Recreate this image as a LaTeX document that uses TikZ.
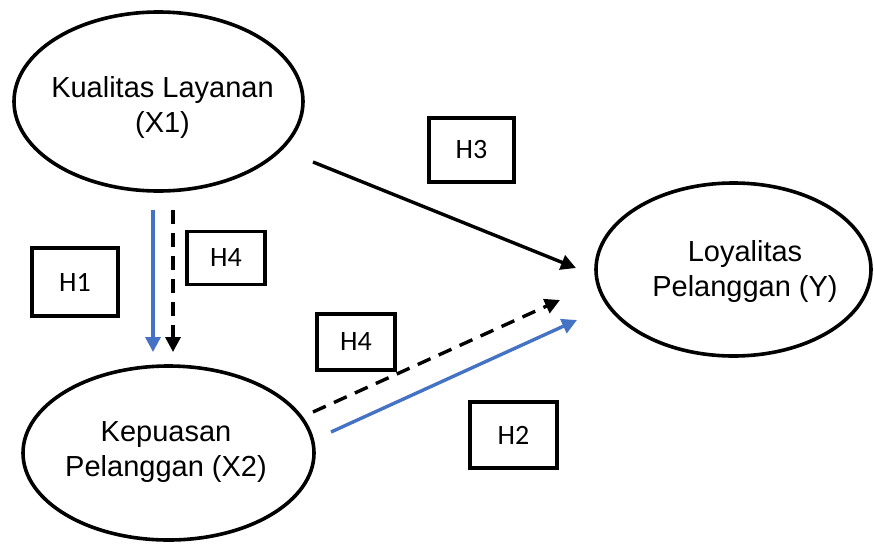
\documentclass[tikz,border=0pt]{standalone}
\usepackage{fontspec}
\setmainfont{Liberation Sans}
\newfontfamily\boxfont{Carlito}
\usetikzlibrary{arrows.meta,shapes.geometric}
\definecolor{arrowblue}{RGB}{68,114,196}
\tikzset{
  construct/.style={ellipse, draw=black, line width=3.6pt, inner sep=0pt},
  constructtext/.style={align=center, inner sep=0pt, font=\fontsize{29}{35}\selectfont},
  hypbox/.style={rectangle, draw=black, line width=3.6pt, inner sep=0pt,
    font=\boxfont\fontsize{28}{32}\selectfont},
  link/.style={line width=3.4pt, -{Triangle[length=15pt,width=15pt]}},
  bluelink/.style={link, draw=arrowblue, -{Triangle[length=15pt,width=15pt,fill=arrowblue]}},
  dashlink/.style={link, dash pattern=on 14pt off 9pt}
}
\begin{document}
\begin{tikzpicture}[x=1pt,y=-1pt]
\useasboundingbox (0,0) rectangle (874,544);
% constructs
\node[construct, minimum width=289pt, minimum height=179pt] (x1) at (158.5,101.5) {};
\node[constructtext] (x1t) at (162.5,107) {Kualitas Layanan\\(X1)};
\node[construct, minimum width=275pt, minimum height=173pt] (y) at (733.5,269.5) {};
\node[constructtext] (yt) at (745,271) {Loyalitas\\Pelanggan (Y)};
\node[construct, minimum width=291pt, minimum height=174pt] (x2) at (168.5,453) {};
\node[constructtext] (x2t) at (166,452) {Kepuasan\\Pelanggan (X2)};
% hypothesis boxes
\node[hypbox, minimum width=86pt, minimum height=68pt] (h1) at (75,282) {H1};
\node[hypbox, minimum width=78pt, minimum height=53pt] (h4a) at (226,258) {H4};
\node[hypbox, minimum width=85pt, minimum height=64pt] (h3) at (471.5,150) {H3};
\node[hypbox, minimum width=78pt, minimum height=56pt] (h4b) at (356,342) {H4};
\node[hypbox, minimum width=87pt, minimum height=66pt] (h2) at (513.5,435) {H2};
% connector end points
\coordinate (a1s) at (153,210);
\coordinate (a1e) at (153,352);
\coordinate (a4s) at (173,210);
\coordinate (a4e) at (173,352);
\coordinate (a3s) at (313,162);
\coordinate (a3e) at (576,268);
\coordinate (b4s) at (313,412);
\coordinate (b4e) at (560,300);
\coordinate (a2s) at (331,432);
\coordinate (a2e) at (577,320);
% connectors
\draw[bluelink] (a1s) -- (a1e);
\draw[dashlink] (a4s) -- (a4e);
\draw[link] (a3s) -- (a3e);
\draw[dashlink] (b4s) -- (b4e);
\draw[bluelink] (a2s) -- (a2e);
\end{tikzpicture}
\end{document}
